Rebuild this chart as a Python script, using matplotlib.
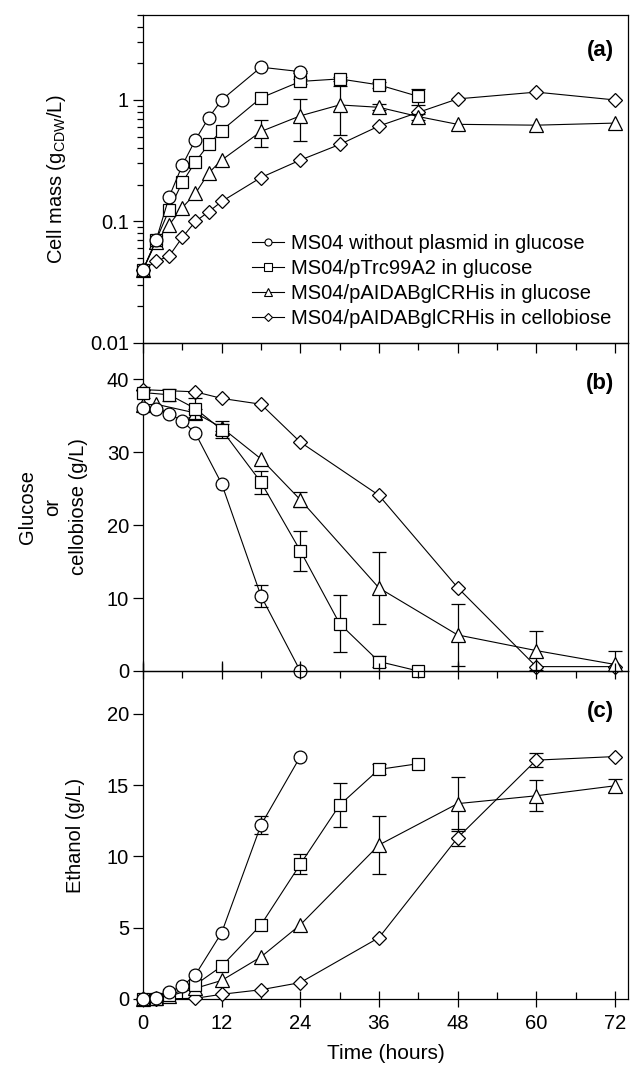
import matplotlib
matplotlib.use("Agg")
import matplotlib.pyplot as plt
import numpy as np
from matplotlib.lines import Line2D
from matplotlib.ticker import FixedLocator, MultipleLocator, NullFormatter, LogLocator

plt.rcParams["font.family"] = ["Liberation Sans", "DejaVu Sans"]
plt.rcParams["font.size"] = 14.5
plt.rcParams["mathtext.fontset"] = "custom"
plt.rcParams["mathtext.rm"] = "Liberation Sans"

labels = [
    "MS04 without plasmid in glucose",
    "MS04/pTrc99A2 in glucose",
    "MS04/pAIDABglCRHis in glucose",
    "MS04/pAIDABglCRHis in cellobiose",
]

# (a) cell mass, g CDW / L
a_t_circ = [0, 2, 4, 6, 8, 10, 12, 18, 24]
a_circ = [0.040, 0.070, 0.16, 0.29, 0.47, 0.71, 1.0, 1.86, 1.71]
a_circ_err = [0, 0, 0, 0, 0, 0, 0, 0, 0.03]
a_t_sq = [0, 2, 4, 6, 8, 10, 12, 18, 24, 30, 36, 42]
a_sq = [0.040, 0.070, 0.125, 0.21, 0.31, 0.43, 0.56, 1.04, 1.42, 1.49, 1.33, 1.07]
a_sq_err = [0, 0, 0, 0, 0, 0, 0, 0, 0.06, 0.06, 0.08, 0.16]
a_t_tri = [0, 2, 4, 6, 8, 10, 12, 18, 24, 30, 36, 42, 48, 60, 72]
a_tri = [0.040, 0.068, 0.094, 0.13, 0.17, 0.25, 0.32, 0.55, 0.74, 0.91, 0.87, 0.73, 0.63, 0.62, 0.645]
a_tri_err = [0, 0, 0, 0, 0, 0, 0, 0.14, 0.28, 0.40, 0.05, 0.04, 0, 0, 0]
a_t_dia = [0, 2, 4, 6, 8, 10, 12, 18, 24, 30, 36, 42, 48, 60, 72]
a_dia = [0.040, 0.047, 0.052, 0.074, 0.10, 0.12, 0.146, 0.23, 0.32, 0.43, 0.61, 0.79, 1.02, 1.16, 1.0]
a_dia_err = [0] * 15

# (b) glucose or cellobiose, g/L
b_t_circ = [0, 2, 4, 6, 8, 12, 18, 24]
b_circ = [36.1, 36.0, 35.3, 34.3, 32.6, 25.7, 10.3, 0.0]
b_circ_err = [0, 0, 0, 0, 0, 0, 1.5, 0]
b_t_sq = [0, 4, 8, 12, 18, 24, 30, 36, 42]
b_sq = [38.2, 37.9, 36.0, 33.1, 25.9, 16.5, 6.5, 1.3, 0.0]
b_sq_err = [0.8, 0.85, 1.4, 1.2, 1.55, 2.75, 3.9, 0.7, 0]
b_t_tri = [0, 2, 8, 12, 18, 24, 36, 48, 60, 72]
b_tri = [36.5, 36.6, 35.4, 33.4, 29.1, 23.5, 11.4, 4.95, 2.8, 0.9]
b_tri_err = [0, 0, 0.5, 0.5, 0, 1.0, 4.9, 4.25, 2.7, 1.85]
b_t_dia = [0, 8, 12, 18, 24, 36, 48, 60, 72]
b_dia = [38.6, 38.3, 37.4, 36.6, 31.4, 24.1, 11.45, 0.6, 0.6]
b_dia_err = [0] * 9

# (c) ethanol, g/L
c_t_circ = [0, 2, 4, 6, 8, 12, 18, 24]
c_circ = [0.0, 0.1, 0.5, 0.9, 1.7, 4.65, 12.2, 17.0]
c_circ_err = [0, 0, 0, 0, 0, 0, 0.65, 0]
c_t_sq = [0, 2, 4, 8, 12, 18, 24, 30, 36, 42]
c_sq = [0.0, 0.0, 0.25, 1.0, 2.3, 5.2, 9.45, 13.6, 16.1, 16.5]
c_sq_err = [0, 0, 0, 0, 0, 0, 0.7, 1.55, 0.35, 0]
c_t_tri = [0, 2, 4, 8, 12, 18, 24, 36, 48, 60, 72]
c_tri = [0.0, 0.05, 0.2, 0.75, 1.3, 2.95, 5.2, 10.8, 13.7, 14.25, 14.95]
c_tri_err = [0, 0, 0, 0, 0, 0, 0, 2.0, 1.9, 1.1, 0.45]
c_t_dia = [0, 2, 8, 12, 18, 24, 36, 48, 60, 72]
c_dia = [0.0, 0.0, 0.05, 0.33, 0.65, 1.15, 4.3, 11.3, 16.75, 17.0]
c_dia_err = [0, 0, 0, 0, 0, 0, 0, 0.6, 0.5, 0]

markers = ["o", "s", "^", "D"]
msizes = [9.2, 9.2, 10, 7.4]

fig = plt.figure(figsize=(6.31, 10.65), dpi=100)
left, right = 143 / 631, 628 / 631
tops = [15, 343, 671]
h = 328
axes = []
for top in tops:
    ax = fig.add_axes([left, 1 - (top + h) / 1065, right - left, h / 1065])
    ax.patch.set_visible(False)
    axes.append(ax)
ax_a, ax_b, ax_c = axes

panels = [
    (ax_a, [(a_t_circ, a_circ, a_circ_err), (a_t_sq, a_sq, a_sq_err),
            (a_t_tri, a_tri, a_tri_err), (a_t_dia, a_dia, a_dia_err)]),
    (ax_b, [(b_t_circ, b_circ, b_circ_err), (b_t_sq, b_sq, b_sq_err),
            (b_t_tri, b_tri, b_tri_err), (b_t_dia, b_dia, b_dia_err)]),
    (ax_c, [(c_t_circ, c_circ, c_circ_err), (c_t_sq, c_sq, c_sq_err),
            (c_t_tri, c_tri, c_tri_err), (c_t_dia, c_dia, c_dia_err)]),
]

for ax, series in panels:
    for i, (t, y, e) in enumerate(series):
        err = np.array(e, dtype=float)
        cont = ax.errorbar(t, y, yerr=np.where(err > 0, err, np.nan), color="k", lw=0.8,
                           marker=markers[i], ms=msizes[i], mfc="white", mec="k",
                           mew=0.9, capsize=5, capthick=0.9, elinewidth=0.9,
                           zorder=3 + (4 - i))
        # markers sitting on the axis lines stay whole, bars are clipped
        cont[0].set_clip_on(False)

# panel (a)
ax_a.set_yscale("log")
ax_a.set_ylim(0.01, 5)
ax_a.yaxis.set_major_locator(FixedLocator([0.01, 0.1, 1]))
ax_a.set_yticklabels(["0.01", "0.1", "1"])
ax_a.yaxis.set_minor_locator(LogLocator(base=10, subs=np.arange(2, 10)))
ax_a.yaxis.set_minor_formatter(NullFormatter())
ax_a.set_ylabel("Cell mass (g$_\\mathregular{CDW}$/L)")
ax_a.yaxis.set_label_coords(-0.155, 0.5)

# panel (b)
ax_b.set_ylim(0, 45)
ax_b.yaxis.set_major_locator(MultipleLocator(10))
ax_b.set_ylabel("Glucose\nor\ncellobiose (g/L)", linespacing=1.45)
ax_b.yaxis.set_label_coords(-0.113, 0.5)

# panel (c)
ax_c.set_ylim(0, 23)
ax_c.yaxis.set_major_locator(MultipleLocator(5))
ax_c.set_ylabel("Ethanol (g/L)")
ax_c.yaxis.set_label_coords(-0.12, 0.5)
ax_c.set_xlabel("Time (hours)", labelpad=8, fontsize=15)

for ax, tag, ty in zip(axes, ["(a)", "(b)", "(c)"], [0.893, 0.878, 0.875]):
    ax.set_xlim(0, 74)
    ax.xaxis.set_major_locator(MultipleLocator(12))
    ax.xaxis.set_minor_locator(MultipleLocator(6))
    ax.tick_params(axis="y", which="major", direction="out", length=7, width=0.9, pad=3)
    ax.tick_params(axis="y", which="minor", direction="out", length=4, width=0.9)
    ax.tick_params(axis="x", which="both", width=0.9)
    for s in ax.spines.values():
        s.set_linewidth(0.9)
    ax.text(0.972, ty, tag, transform=ax.transAxes, ha="right", va="center",
            fontsize=16, fontweight="bold")

# x ticks: top of lower panels point down, bottom majors point up
ax_a.tick_params(axis="x", which="both", bottom=False, top=False, labelbottom=False)
ax_b.tick_params(axis="x", which="both", top=True, bottom=False, labelbottom=False,
                 direction="in")
ax_b.tick_params(axis="x", which="major", length=7)
ax_b.tick_params(axis="x", which="minor", length=5)
ax_b.tick_params(axis="x", which="major", bottom=True, length=7)
ax_c.tick_params(axis="x", which="both", top=True, direction="in")
ax_c.tick_params(axis="x", which="major", direction="inout", length=12, pad=5)
ax_c.tick_params(axis="x", which="minor", length=5)

handles = [Line2D([], [], color="k", lw=0.8, marker=m, ms=s * 0.55, mfc="white",
                  mec="k", mew=0.8) for m, s in zip(markers, msizes)]
ax_a.legend(handles, labels, loc="center left", bbox_to_anchor=(0.225, 0.19),
            frameon=False, handlelength=1.6, handletextpad=0.35, labelspacing=0.3,
            borderpad=0, borderaxespad=0, fontsize=14.5)

fig.savefig("out.png", dpi=100)
